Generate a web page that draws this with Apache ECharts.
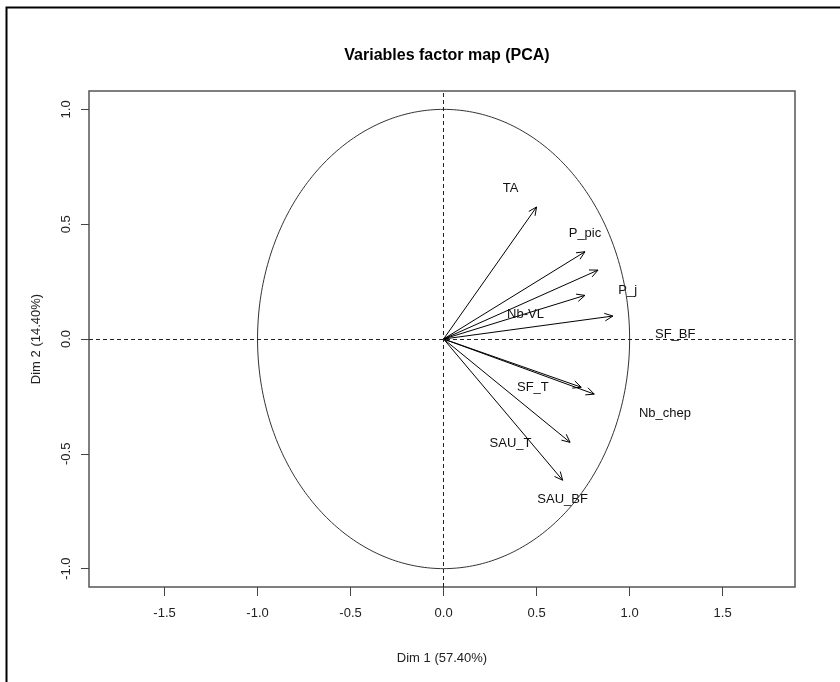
<!DOCTYPE html>
<html>
<head>
<meta charset="utf-8">
<script src="https://cdn.jsdelivr.net/npm/echarts@6/dist/echarts.min.js"></script>
<style>html,body{margin:0;padding:0;background:#fff}#c{width:840px;height:682px}</style>
</head>
<body>
<div id="c"></div>
<script>
// Arrow end points (Dim 1, Dim 2)
const arrowDim1 = [0.50, 0.76, 0.83, 0.76, 0.91, 0.74, 0.81, 0.68, 0.64];
const arrowDim2 = [0.575, 0.38, 0.30, 0.19, 0.10, -0.21, -0.24, -0.45, -0.615];
// Variable labels and where they sit (Dim 1, Dim 2)
const labelNames = ['TA', 'P_pic', 'P_j', 'Nb-VL', 'SF_BF', 'SF_T', 'Nb_chep', 'SAU_T', 'SAU_BF'];
const labelDim1 = [0.36, 0.76, 0.99, 0.44, 1.245, 0.48, 1.19, 0.36, 0.64];
const labelDim2 = [0.655, 0.46, 0.21, 0.105, 0.02, -0.21, -0.325, -0.455, -0.70];
// Axis ticks
const xTicks = [-1.5, -1.0, -0.5, 0.0, 0.5, 1.0, 1.5];
const yTicks = [-1.0, -0.5, 0.0, 0.5, 1.0];

const FONT = '"Liberation Sans", Arial, sans-serif';

// unit correlation circle (reference shape)
const circle = [];
for (let i = 0; i <= 360; i++) {
  const a = i * Math.PI / 180;
  circle.push([Math.cos(a), Math.sin(a)]);
}

const chart = echarts.init(document.getElementById('c'));
chart.setOption({
  animation: false,
  backgroundColor: '#fff',
  title: {
    text: 'Variables factor map (PCA)',
    left: 442, top: 43, textAlign: 'center',
    textStyle: { fontFamily: FONT, fontSize: 16, fontWeight: 'bold', color: '#000' }
  },
  graphic: [{
    type: 'rect', left: 4, top: 5, shape: { width: 900, height: 900 },
    style: { fill: 'none', stroke: '#000', lineWidth: 2 }, silent: true
  }],
  grid: { left: 89, right: 45, top: 91, bottom: 95, show: true, borderColor: '#555', borderWidth: 1.5, backgroundColor: 'transparent' },
  xAxis: {
    type: 'value', min: -1.906, max: 1.889,
    name: 'Dim 1 (57.40%)', nameLocation: 'middle', nameGap: 65,
    nameTextStyle: { fontFamily: FONT, fontSize: 13, color: '#222' },
    axisLine: { show: false, onZero: false },
    splitLine: { show: false },
    axisTick: { show: true, length: 9, customValues: xTicks, lineStyle: { color: '#444' } },
    axisLabel: { customValues: xTicks, margin: 20, fontFamily: FONT, fontSize: 13, color: '#222',
      formatter: v => v.toFixed(1) }
  },
  yAxis: {
    type: 'value', min: -1.08, max: 1.08,
    name: 'Dim 2 (14.40%)', nameLocation: 'middle', nameGap: 46,
    nameTextStyle: { fontFamily: FONT, fontSize: 13, color: '#222' },
    axisLine: { show: false, onZero: false },
    splitLine: { show: false },
    axisTick: { show: true, length: 8, customValues: yTicks, lineStyle: { color: '#444' } },
    axisLabel: { customValues: yTicks, rotate: 90, margin: 16, fontFamily: FONT, fontSize: 13, color: '#222',
      formatter: v => v.toFixed(1) }
  },
  series: [
    {
      type: 'line', data: circle, showSymbol: false, silent: true,
      lineStyle: { color: '#333', width: 1 },
      markLine: {
        silent: true, symbol: ['none', 'none'], label: { show: false },
        lineStyle: { color: '#222', type: [4, 3], width: 1 },
        data: [{ xAxis: 0 }, { yAxis: 0 }]
      }
    },
    {
      type: 'custom', silent: true,
      data: arrowDim1.map((x, i) => [x, arrowDim2[i]]),
      renderItem: function (params, api) {
        const o = api.coord([0, 0]);
        const t = api.coord([api.value(0), api.value(1)]);
        const ang = Math.atan2(t[1] - o[1], t[0] - o[0]);
        const L = 9, h = 25 * Math.PI / 180;
        const p1 = [t[0] - L * Math.cos(ang - h), t[1] - L * Math.sin(ang - h)];
        const p2 = [t[0] - L * Math.cos(ang + h), t[1] - L * Math.sin(ang + h)];
        const st = { stroke: '#000', lineWidth: 1, fill: null };
        return {
          type: 'group', children: [
            { type: 'line', shape: { x1: o[0], y1: o[1], x2: t[0], y2: t[1] }, style: st },
            { type: 'polyline', shape: { points: [p1, t, p2] }, style: st }
          ]
        };
      }
    },
    {
      type: 'custom', silent: true,
      data: labelDim1.map((x, i) => [x, labelDim2[i], labelNames[i]]),
      renderItem: function (params, api) {
        const p = api.coord([api.value(0), api.value(1)]);
        return {
          type: 'text', x: p[0], y: p[1],
          style: { text: labelNames[params.dataIndex], align: 'center', verticalAlign: 'middle',
            fontFamily: FONT, fontSize: 13, fill: '#111' }
        };
      }
    }
  ]
});
</script>
</body>
</html>
